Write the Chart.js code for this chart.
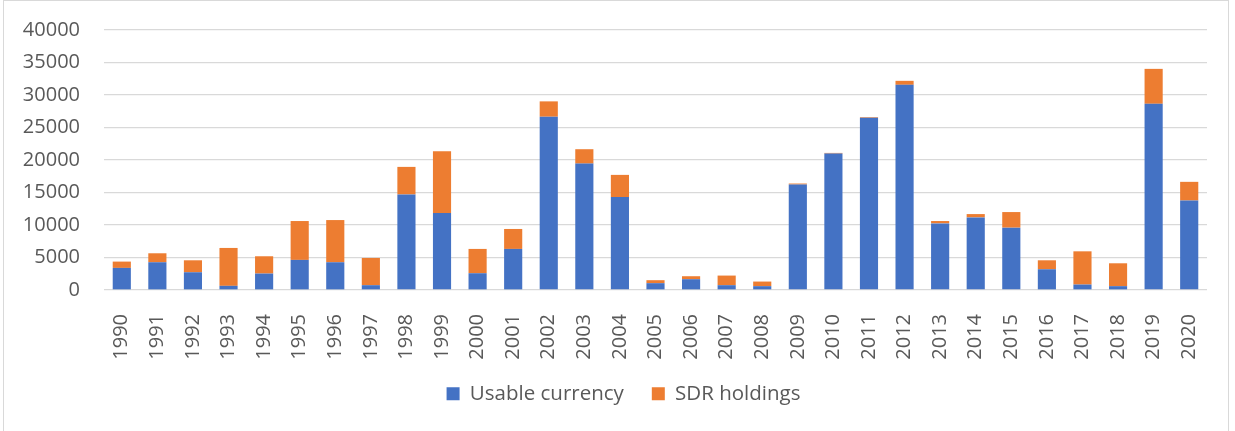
<!DOCTYPE html>
<html>
<head>
<meta charset="utf-8">
<script src="https://cdn.jsdelivr.net/npm/chart.js@4/dist/chart.umd.min.js"></script>
<style>
  body { margin: 0; background: #fff; }
  #wrap { position: relative; width: 1235px; height: 431px; }
  #frame { position: absolute; left: 3px; top: 0px; width: 1226px; height: 440px; border: 1px solid #d9d9d9; box-sizing: border-box; }
  canvas { position: absolute; left: 0; top: 0; }
</style>
</head>
<body>
<div id="wrap">
  <div id="frame"></div>
  <canvas id="canvas" width="1235" height="431"></canvas>
</div>
<script>
var YEARS = ["1990","1991","1992","1993","1994","1995","1996","1997","1998","1999",
             "2000","2001","2002","2003","2004","2005","2006","2007","2008","2009",
             "2010","2011","2012","2013","2014","2015","2016","2017","2018","2019","2020"];
// blue part of each bar
var USABLE_CURRENCY = [3400, 4270, 2730, 640, 2530, 4630, 4270, 740, 14700, 11840,
                       2580, 6320, 26660, 19450, 14290, 1050, 1660, 740, 590, 16230,
                       20990, 26510, 31570, 10250, 11170, 9590, 3190, 840, 590, 28650, 13770];
// orange part (stacked on top)
var SDR_HOLDINGS = [970, 1380, 1840, 5830, 2660, 5980, 6490, 4190, 4240, 9510,
                    3740, 3070, 2360, 2210, 3420, 460, 460, 1480, 710, 150,
                    100, 100, 610, 360, 510, 2400, 1380, 5110, 3520, 5370, 2870];
var Y_TICKS = [0, 5000, 10000, 15000, 20000, 25000, 30000, 35000, 40000];

var TXT = "#595959";
var FONT = "'Open Sans', 'Liberation Sans', sans-serif";

// nudge the legend right/up so it sits like the original
var legendShift = {
  id: 'legendShift',
  beforeDraw: function(chart) {
    if (chart.legend) {
      chart.legend.left = 40;
      chart.legend.top = chart.legend.top - 4.5;
    }
  }
};

var ctx = document.getElementById("canvas").getContext("2d");
window.myBar = new Chart(ctx, {
  type: 'bar',
  data: {
    labels: YEARS,
    datasets: [{
      label: 'Usable currency',
      data: USABLE_CURRENCY,
      backgroundColor: '#4472C4',
      barPercentage: 0.51,
      categoryPercentage: 1.0
    }, {
      label: 'SDR holdings',
      data: SDR_HOLDINGS,
      backgroundColor: '#ED7D31',
      barPercentage: 0.51,
      categoryPercentage: 1.0
    }]
  },
  options: {
    responsive: false,
    animation: false,
    layout: { padding: { left: 0, right: 28, top: 30, bottom: 12.5 } },
    plugins: {
      legend: {
        position: 'bottom',
        labels: {
          color: TXT,
          font: { family: FONT, size: 20.5 },
          boxWidth: 13,
          boxHeight: 13,
          padding: 28
        }
      },
      tooltip: { enabled: false }
    },
    scales: {
      x: {
        stacked: true,
        grid: { display: false },
        border: { display: false },
        ticks: {
          color: TXT,
          font: { family: FONT, size: 20 },
          minRotation: 90,
          maxRotation: 90,
          padding: 16,
          autoSkip: false
        },
        afterFit: function(scale) { scale.height = 70; }
      },
      y: {
        stacked: true,
        min: 0,
        max: 40000,
        afterBuildTicks: function(scale) {
          scale.ticks = Y_TICKS.map(function(v) { return { value: v }; });
        },
        grid: { color: '#d9d9d9', lineWidth: 1.3, drawTicks: false },
        border: { display: false },
        ticks: {
          color: TXT,
          font: { family: FONT, size: 20 },
          padding: 24,
          callback: function(v) { return String(v); }
        },
        afterFit: function(scale) {
          scale.width = 104;
          scale.paddingTop = 0;
          scale.paddingBottom = 0;
        }
      }
    }
  },
  plugins: [legendShift]
});
</script>
</body>
</html>
